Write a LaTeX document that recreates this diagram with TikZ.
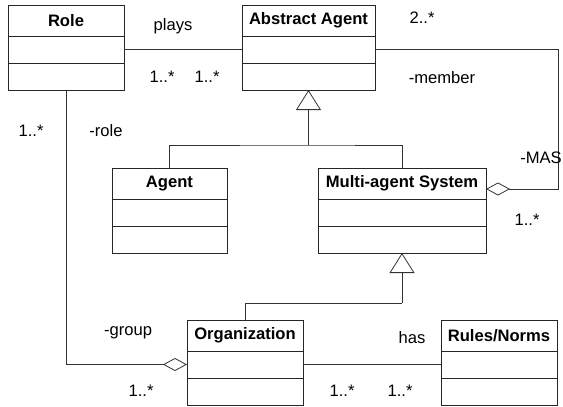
\documentclass[tikz,border=0pt]{standalone}
\usepackage{fontspec}
\setmainfont{Liberation Sans}
\usetikzlibrary{positioning,arrows.meta}

\begin{document}
\begin{tikzpicture}[x=1pt, y=-1pt,
    cls/.style={rectangle,draw=black!85,line width=0.8pt,inner sep=0pt,outer sep=0pt,minimum height=31pt,font=\fontsize{16.6}{19}\selectfont\bfseries},
    cmp/.style={rectangle,draw=black!85,line width=0.8pt,inner sep=0pt,outer sep=0pt,minimum height=27pt},
    lbl/.style={font=\fontsize{16.6}{19}\selectfont,inner sep=0pt},
    con/.style={draw=black!80,line width=0.8pt},
    aggr/.style={con,-{Diamond[open,length=24pt,width=13pt,line width=0.8pt]}},
    gen/.style={con,-{Triangle[open,length=20pt,width=25pt,line width=0.8pt]}}
  ]
  \useasboundingbox (0,0) rectangle (563,407);

  % classes
  \node[cls,minimum width=116pt] (role) at (66,20.5) {Role};
  \node[cmp,minimum width=116pt,below=0pt of role] (role1) {};
  \node[cmp,minimum width=116pt,below=0pt of role1] (role2) {};

  \node[cls,minimum width=133pt] (aa) at (308.5,20.5) {Abstract Agent};
  \node[cmp,minimum width=133pt,below=0pt of aa] (aa1) {};
  \node[cmp,minimum width=133pt,below=0pt of aa1] (aa2) {};

  \node[cls,minimum width=115pt] (agent) at (169.5,183.5) {Agent};
  \node[cmp,minimum width=115pt,below=0pt of agent] (agent1) {};
  \node[cmp,minimum width=115pt,below=0pt of agent1] (agent2) {};

  \node[cls,minimum width=168pt] (mas) at (402,183.5) {Multi-agent System};
  \node[cmp,minimum width=168pt,below=0pt of mas] (mas1) {};
  \node[cmp,minimum width=168pt,below=0pt of mas1] (mas2) {};

  \node[cls,minimum width=116pt] (org) at (245,335.5) {Organization};
  \node[cmp,minimum width=116pt,below=0pt of org] (org1) {};
  \node[cmp,minimum width=116pt,below=0pt of org1] (org2) {};

  \node[cls,minimum width=116pt] (rules) at (499,335.5) {Rules/Norms};
  \node[cmp,minimum width=116pt,below=0pt of rules] (rules1) {};
  \node[cmp,minimum width=116pt,below=0pt of rules1] (rules2) {};

  % associations
  \draw[con] (role1.east) -- (aa1.west);
  \draw[con] (org1.east) -- (rules1.west);
  \draw[aggr] (aa1.east) -- ++(183,0) |- ([yshift=-5.5pt]mas.east);
  \draw[aggr] (role2.south) |- (org1.west);

  % generalizations
  \coordinate (g1) at (308.5,145);
  \coordinate (g2) at (402,303);
  \draw[con] (agent.north) |- (g1) -| (mas.north);
  \draw[gen] (g1) -- (aa2.south);
  \draw[con] (org.north) |- (g2);
  \draw[gen] (g2) -- (mas2.south);

  % labels
  \node[lbl] (plays) at (173,26) {plays};
  \node[lbl] (m1) at (162,77) {1..*};
  \node[lbl] (m2) at (207,77) {1..*};
  \node[lbl] (m3) at (422,18) {2..*};
  \node[lbl] (member) at (442,78) {-member};
  \node[lbl] (masl) at (541,158) {-MAS};
  \node[lbl] (m4) at (527,220) {1..*};
  \node[lbl] (m5) at (31,131) {1..*};
  \node[lbl] (rolel) at (106,131) {-role};
  \node[lbl] (group) at (128,333) {-group};
  \node[lbl] (m6) at (141,391) {1..*};
  \node[lbl] (has) at (412,338) {has};
  \node[lbl] (m7) at (342,391) {1..*};
  \node[lbl] (m8) at (400,391) {1..*};
\end{tikzpicture}
\end{document}
